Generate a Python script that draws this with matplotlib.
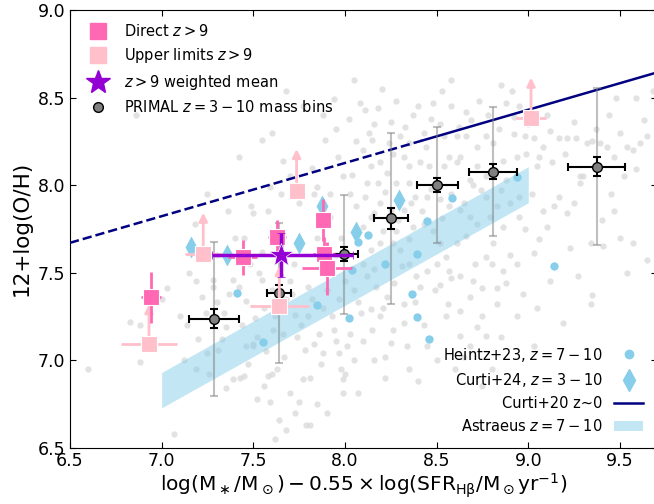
import matplotlib
matplotlib.use('Agg')
import matplotlib.pyplot as plt
from matplotlib.lines import Line2D
from matplotlib.patches import Patch

# grey background sample
bg_x = [6.60, 6.86, 6.83, 6.88, 6.88, 7.03, 7.07, 7.10, 7.15, 7.18, 7.19, 7.19, 7.24, 7.25, 7.28, 7.28,
        7.30, 7.31, 7.34, 7.35, 7.39, 7.42, 7.43, 7.45, 7.46, 7.49, 7.50, 7.50, 7.52, 7.53, 7.55, 7.55,
        7.58, 7.59, 7.60, 7.63, 7.64, 7.65, 7.66, 7.68, 7.70, 7.73, 7.74, 7.75, 7.77, 7.78, 7.79, 7.81,
        7.83, 7.83, 7.85, 7.85, 7.86, 7.88, 7.89, 7.92, 7.94, 7.95, 7.95, 7.97, 7.98, 7.99, 7.99, 8.01,
        8.03, 8.04, 8.05, 8.06, 8.07, 8.07, 7.68, 7.77, 7.94, 7.50, 7.39, 7.35, 7.46, 7.59, 7.66, 7.52,
        7.81, 7.88, 7.91, 7.96, 7.99, 8.03, 7.40, 7.55, 7.60, 7.70, 7.72, 7.80, 7.85, 7.95, 7.98, 7.62,
        7.48, 7.30, 7.42, 7.56, 7.68, 7.80, 7.90, 8.00, 7.92, 7.75, 7.20, 7.12, 7.00, 6.95,
        8.53, 8.85, 8.91, 9.48, 9.59, 9.68, 9.65, 8.11, 8.16, 8.47, 8.66, 8.92, 8.92, 9.03, 9.06, 9.13,
        9.17, 9.21, 9.26, 9.32, 9.35, 9.39, 9.43, 9.47, 9.54, 9.57, 9.61, 9.59, 9.52, 9.28, 9.28, 9.17,
        9.14, 9.21, 9.23, 9.34, 9.41, 9.54, 9.57, 9.65, 9.35, 9.34, 9.19, 9.03, 8.16, 8.32, 8.32, 8.26,
        8.41, 8.52, 8.56, 8.68, 8.72, 8.77, 8.83, 8.94, 8.55, 8.63, 8.75, 8.83, 8.86, 8.94, 9.03, 9.06,
        9.10, 8.95, 8.86, 8.95, 9.05, 8.99, 8.94, 8.86, 8.81, 8.77, 8.72, 8.63, 8.61, 8.57, 8.54, 8.46,
        8.41, 8.35, 8.32, 8.26, 8.19, 8.14, 8.12, 8.18, 8.23, 8.28, 8.35, 8.38, 8.45, 8.52, 8.57, 8.63,
        8.68, 8.72, 8.66, 8.61, 8.55, 8.50, 8.45, 8.39, 8.35, 8.30, 8.26, 8.19, 8.14, 8.10, 8.12, 8.17,
        8.23, 8.14, 8.19, 8.10, 8.15, 8.25, 8.34, 8.45, 8.68, 8.75, 8.85, 8.54, 8.61, 8.66, 8.44, 8.35,
        8.30, 8.24, 8.15, 8.10, 8.68, 8.74, 8.77, 8.83, 8.85, 8.77, 8.72, 8.88, 8.81, 8.77, 8.71, 8.63,
        8.57, 8.52, 8.48, 8.43, 8.37, 8.32, 8.25, 8.19, 8.14, 8.10, 8.21, 8.28, 8.35, 9.00, 8.73, 8.40,
        8.95, 9.10, 9.30, 9.45, 8.90, 8.60, 8.80, 8.40, 9.47, 8.58, 8.20, 8.05, 8.22, 8.75,
        8.02, 8.08, 8.13, 8.18, 8.25, 8.28, 8.33, 8.37, 8.43, 8.48, 8.52, 8.58, 8.62, 8.69, 8.78, 8.84,
        8.88, 8.98, 9.08, 9.12, 9.20, 9.25, 9.37, 9.44, 9.50, 9.63,
        8.06, 8.11, 8.16, 8.22, 8.29, 8.36, 8.42, 8.47, 8.53, 8.58, 8.65, 8.70, 8.79, 8.90, 8.98, 9.02,
        9.08, 9.25, 9.40, 9.50,
        8.05, 8.09, 8.16, 8.21, 8.27, 8.31, 8.38, 8.43, 8.49, 8.58, 8.63, 8.70, 8.80, 8.88, 8.97, 9.05,
        9.12, 9.27, 8.22, 8.35, 8.50, 8.65,
        7.33, 7.37, 7.44, 7.47, 7.51, 7.57, 7.61, 7.67, 7.71, 7.76, 7.82, 7.87, 7.93, 7.97, 8.00, 7.26,
        7.22, 7.14, 7.56, 7.73, 7.62, 7.90, 7.45, 7.58, 7.36, 7.25, 7.70, 7.82, 7.60, 7.88]
bg_y = [6.95, 8.40, 7.22, 7.20, 6.99, 7.41, 6.58, 7.25, 7.50, 7.78, 7.45, 6.95, 7.27, 7.04, 7.46, 7.42,
        7.33, 7.06, 7.27, 7.19, 6.89, 8.16, 6.90, 6.91, 7.34, 7.88, 7.84, 7.09, 7.13, 7.50, 8.26, 7.46,
        6.91, 6.76, 6.92, 6.95, 6.66, 7.95, 7.15, 6.60, 6.81, 7.26, 7.13, 6.76, 6.89, 7.06, 6.63, 6.90,
        7.09, 7.95, 7.99, 6.75, 7.15, 7.30, 8.26, 7.95, 7.17, 8.32, 7.11, 7.04, 6.95, 6.81, 6.89, 7.08,
        7.15, 8.06, 7.00, 8.25, 6.81, 7.33, 8.54, 8.45, 8.49, 7.08, 7.46, 6.84, 7.08, 7.99, 8.14, 6.78,
        6.63, 7.04, 7.50, 8.16, 8.05, 7.95, 7.70, 7.62, 7.40, 7.45, 7.55, 7.42, 7.70, 7.60, 7.70, 7.25,
        7.55, 7.60, 7.42, 7.30, 7.35, 7.25, 7.40, 7.45, 7.82, 7.90, 7.12, 7.00, 7.35, 7.10,
        8.54, 8.57, 8.54, 8.50, 8.50, 8.54, 8.28, 8.43, 8.35, 8.38, 8.42, 8.39, 8.29, 8.27, 8.16, 8.13,
        8.27, 8.27, 8.27, 8.24, 8.25, 8.24, 8.22, 8.16, 8.22, 8.20, 8.24, 8.09, 8.05, 8.05, 8.01, 7.93,
        7.88, 7.84, 7.64, 7.67, 7.65, 7.50, 7.67, 7.57, 7.37, 7.32, 7.21, 7.08, 7.00, 7.32, 7.21, 7.17,
        7.42, 7.43, 7.32, 7.36, 7.19, 7.14, 7.32, 7.25, 7.25, 7.14, 7.41, 7.41, 7.51, 7.55, 7.61, 7.69,
        7.76, 7.82, 7.76, 7.93, 8.11, 8.18, 8.16, 8.14, 8.24, 8.28, 8.22, 8.16, 8.13, 8.16, 8.11, 8.11,
        8.13, 8.11, 8.16, 8.18, 8.13, 8.11, 8.01, 8.01, 8.07, 8.01, 8.01, 7.93, 7.93, 7.92, 7.88, 7.86,
        7.82, 7.78, 7.71, 7.67, 7.59, 7.55, 7.51, 7.48, 7.55, 7.63, 7.67, 7.67, 7.63, 7.55, 7.48, 7.42,
        7.36, 7.29, 7.25, 7.11, 7.17, 7.10, 7.08, 7.08, 7.08, 7.25, 7.13, 8.28, 8.28, 8.28, 8.22, 8.24,
        8.28, 8.24, 8.26, 8.20, 8.03, 7.97, 7.93, 7.88, 7.97, 8.05, 8.11, 8.03, 7.67, 7.59, 7.55, 7.48,
        7.51, 7.67, 7.74, 7.78, 7.76, 7.86, 7.86, 7.90, 7.82, 7.76, 7.74, 7.74, 7.69, 8.35, 8.48, 8.45,
        8.45, 8.40, 8.05, 7.95, 7.60, 6.95, 6.95, 6.88, 7.85, 8.60, 8.55, 8.60, 6.90, 6.85,
        8.38, 8.47, 8.30, 8.44, 8.36, 8.48, 8.33, 8.40, 8.30, 8.47, 8.35, 8.45, 8.33, 8.37, 8.40, 8.32,
        8.47, 8.28, 8.22, 8.31, 8.18, 8.36, 8.32, 8.40, 8.30, 8.37,
        7.88, 7.93, 7.84, 7.96, 7.80, 7.90, 7.85, 7.98, 7.81, 7.95, 7.90, 8.00, 7.82, 7.90, 7.75, 7.95,
        7.85, 7.90, 7.80, 7.70,
        7.40, 7.27, 7.52, 7.30, 7.44, 7.54, 7.33, 7.20, 7.40, 7.47, 7.28, 7.45, 7.55, 7.44, 7.38, 7.30,
        7.45, 7.48, 7.02, 6.95, 7.00, 7.02,
        7.12, 7.38, 7.20, 6.98, 7.24, 7.05, 7.17, 7.02, 7.38, 7.20, 7.35, 6.98, 7.25, 7.35, 6.92, 6.92,
        7.36, 7.20, 6.85, 6.70, 6.55, 6.70, 7.70, 7.85, 7.85, 7.95, 8.05, 8.10, 8.30, 8.40]

# PRIMAL z=3-10 mass bins
primal_x = [7.285, 7.642, 7.995, 8.251, 8.504, 8.809, 9.373]
primal_y = [7.236, 7.381, 7.606, 7.810, 8.000, 8.077, 8.105]
primal_xerr = [0.135, 0.065, 0.078, 0.094, 0.111, 0.132, 0.157]
primal_yerr = [0.053, 0.050, 0.038, 0.059, 0.038, 0.045, 0.055]
primal_spread = [0.44, 0.40, 0.34, 0.49, 0.33, 0.37, 0.45]

# direct z>9
direct_x = [6.942, 7.442, 7.631, 7.878, 7.885, 7.903]
direct_y = [7.358, 7.587, 7.701, 7.800, 7.606, 7.524]
direct_xerr = [0.052, 0.080, 0.050, 0.030, 0.060, 0.135]
direct_yerr = [0.148, 0.100, 0.100, 0.120, 0.100, 0.153]

# upper limits z>9
ul_x = [6.931, 7.227, 7.642, 7.736, 9.015]
ul_y = [7.089, 7.606, 7.308, 7.966, 8.382]
ul_xerr = [0.151, 0.100, 0.160, 0.040, 0.080]
ul_arrow = [0.23, 0.236, 0.23, 0.24, 0.232]

# weighted mean
mean_x, mean_y = 7.649, 7.600
mean_xerr = [[0.376], [0.396]]
mean_yerr = 0.124

# Heintz+23
heintz_x = [7.413, 7.554, 7.846, 8.040, 8.023, 8.073, 8.127, 8.218, 8.394, 8.446, 8.582, 8.364,
            8.394, 8.458, 8.937, 9.140]
heintz_y = [7.381, 7.101, 7.314, 7.514, 7.241, 7.676, 7.715, 7.549, 7.604, 7.793, 7.925, 7.375,
            7.247, 7.118, 8.045, 7.539]

# Curti+24
c24_x = [7.158, 7.355, 7.751, 7.873, 8.062, 8.295]
c24_y = [7.648, 7.600, 7.670, 7.880, 7.733, 7.915]

# Curti+20 z~0 (dashed below 8.42)
c20_x = [6.5, 8.42, 9.7]
c20_y = [7.670, 8.254, 8.643]

# Astraeus band
astr_x = [7.0, 9.0]
astr_lo = [6.727, 7.899]
astr_hi = [6.929, 8.105]

hot = '#ff69b4'
light = '#ffc0cb'
blue = '#87ceeb'
purple = '#9400d3'

fig = plt.figure(figsize=(6.54, 5.04), dpi=100)
ax = fig.add_axes([0.107, 0.112, 0.897, 0.868])

ax.plot(bg_x, bg_y, 'o', color='#d6d6d6', alpha=0.7, ms=4.5, mec='none', zorder=1)
ax.fill_between(astr_x, astr_lo, astr_hi, color=blue, alpha=0.5, lw=0, zorder=2)
ax.plot(c20_x[:2], c20_y[:2], '--', color='navy', lw=1.8, zorder=3)
ax.plot(c20_x[1:], c20_y[1:], '-', color='navy', lw=1.8, zorder=3)

ax.plot(heintz_x, heintz_y, 'o', color=blue, ms=6, mec='none', zorder=4)
ax.plot(c24_x, c24_y, 'd', color=blue, ms=11, mec='none', zorder=4)

# PRIMAL: grey spread + black error bars
ax.errorbar(primal_x, primal_y, yerr=primal_spread, fmt='none', ecolor='gray', alpha=0.5,
            elinewidth=1.5, capsize=3, capthick=1.5, zorder=5)
ax.errorbar(primal_x, primal_y, xerr=primal_xerr, yerr=primal_yerr, fmt='o', color='gray',
            mec='k', ms=7, ecolor='k', elinewidth=1.5, capsize=3, capthick=1.5, zorder=6)

# upper limits with upward arrows
ax.errorbar(ul_x, ul_y, xerr=ul_xerr, fmt='none', ecolor=light, elinewidth=2, zorder=7)
for x, y, d in zip(ul_x, ul_y, ul_arrow):
    ax.annotate('', xy=(x, y + d), xytext=(x, y),
                arrowprops=dict(arrowstyle='-|>', color=light, lw=2, mutation_scale=12,
                                shrinkA=0, shrinkB=0), zorder=7)
ax.plot(ul_x, ul_y, 's', color=light, ms=11, mec='w', mew=0.8, zorder=8)

# direct
ax.errorbar(direct_x, direct_y, xerr=direct_xerr, yerr=direct_yerr, fmt='s', color=hot,
            ms=11, mec='w', mew=0.8, ecolor=hot, elinewidth=2, zorder=9)

# weighted mean
ax.errorbar(mean_x, mean_y, xerr=mean_xerr, yerr=mean_yerr, fmt='*', color=purple, ms=18,
            mec='w', mew=0.5, ecolor=purple, elinewidth=2.5, capsize=3, capthick=2, zorder=10)

ax.set_xlim(6.5, 9.7)
ax.set_ylim(6.5, 9.0)
ax.tick_params(direction='in', top=True, right=True, labelsize=12.5, length=4)
ax.set_xlabel(r'$\log(\mathrm{M}_\ast/\mathrm{M}_\odot) - 0.55\times\log(\mathrm{SFR}_{\mathrm{H\beta}}/\mathrm{M}_\odot\mathrm{yr}^{-1})$',
              fontsize=14.5, labelpad=1)
ax.set_ylabel('12+log(O/H)', fontsize=15.5)

h1 = [Line2D([], [], ls='none', marker='s', color=hot, ms=11),
      Line2D([], [], ls='none', marker='s', color=light, ms=11),
      Line2D([], [], ls='none', marker='*', color=purple, ms=18),
      Line2D([], [], ls='none', marker='o', color='gray', mec='k', ms=7)]
l1 = ['Direct $z>9$', 'Upper limits $z>9$', '$z>9$ weighted mean', 'PRIMAL $z=3-10$ mass bins']
leg1 = ax.legend(h1, l1, loc='upper left', frameon=False, fontsize=10.5)
ax.add_artist(leg1)

h2 = [Line2D([], [], ls='none', marker='o', color=blue, ms=6),
      Line2D([], [], ls='none', marker='d', color=blue, ms=11),
      Line2D([], [], color='navy', lw=1.8),
      Patch(color=blue, alpha=0.5, lw=0)]
l2 = ['Heintz+23, $z=7-10$', 'Curti+24, $z=3-10$', 'Curti+20 z~0', 'Astraeus $z=7-10$']
ax.legend(h2, l2, loc='lower right', frameon=False, fontsize=10.5, markerfirst=False)

fig.savefig('out.png', dpi=100)
